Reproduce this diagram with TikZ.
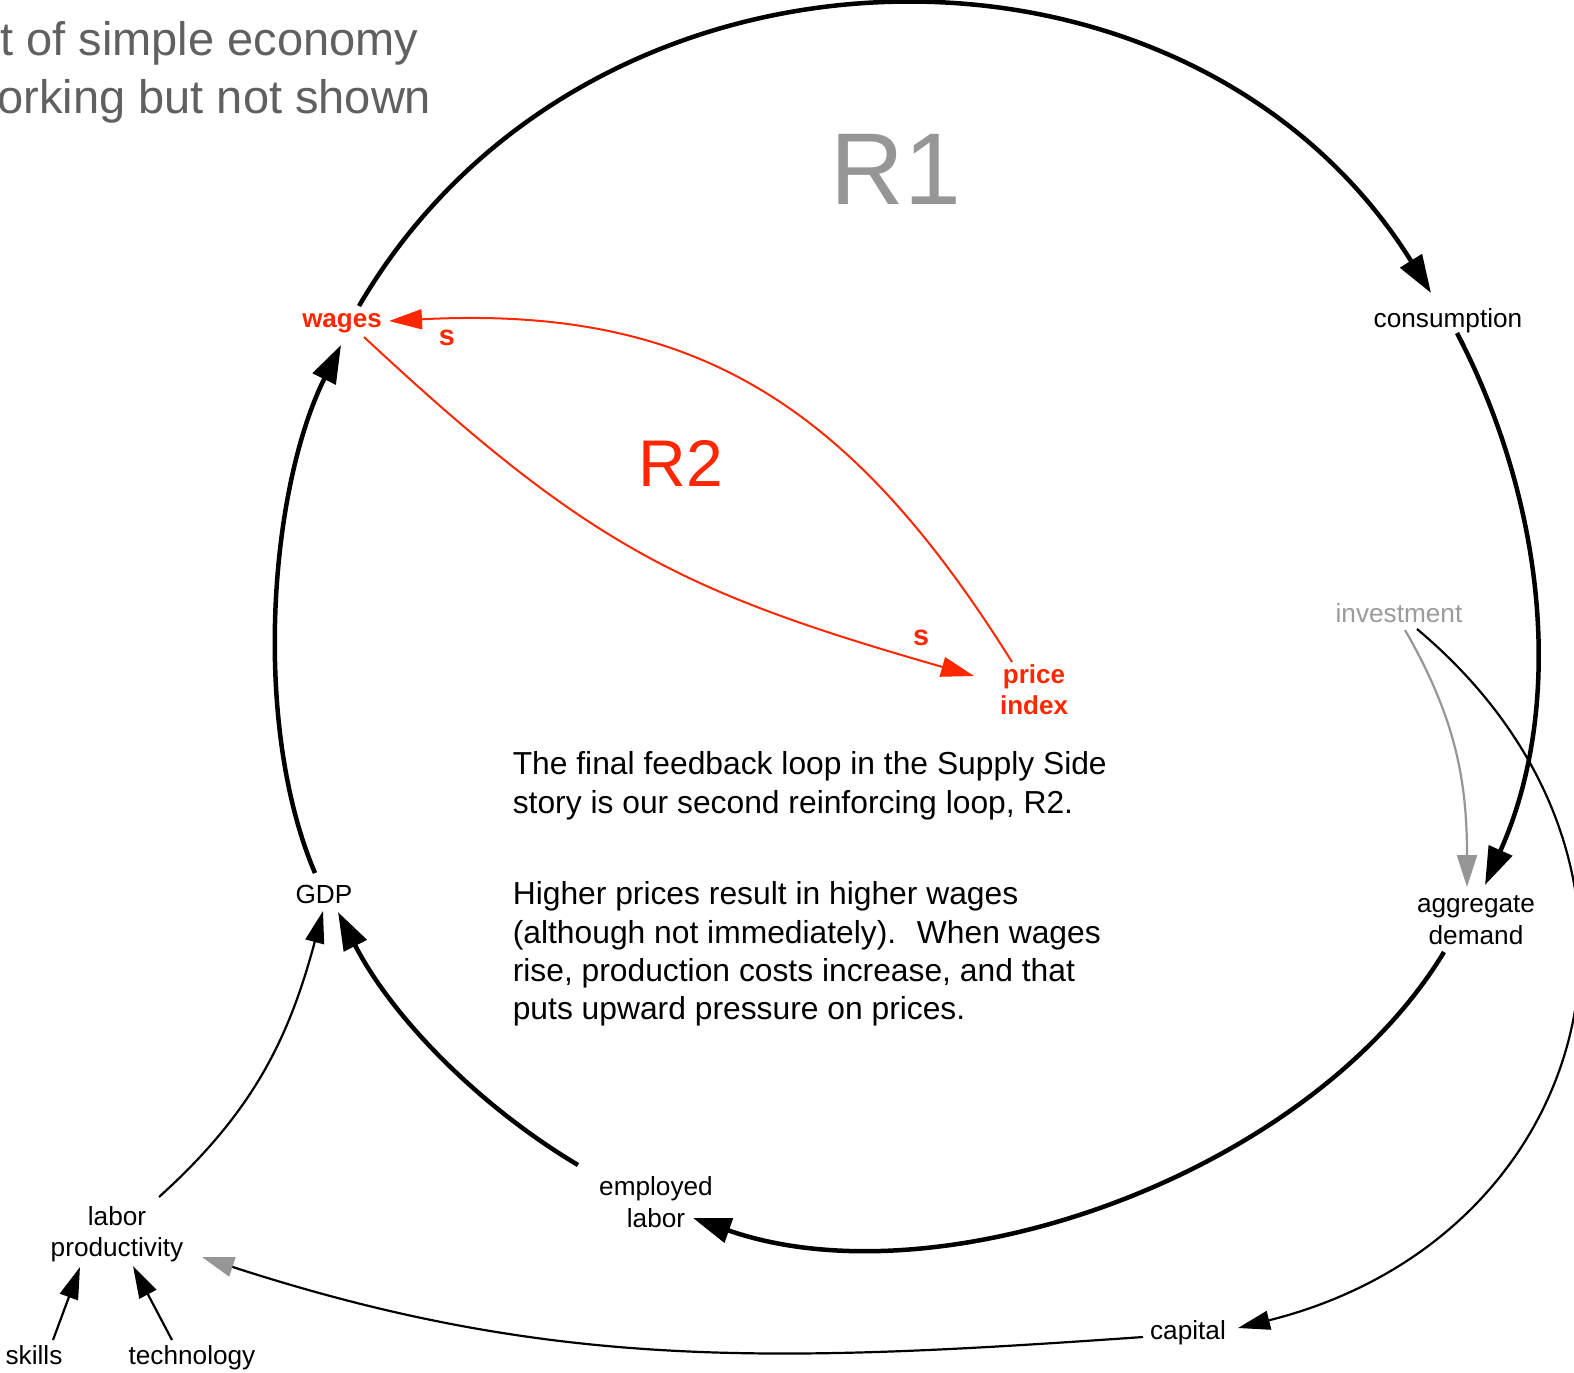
\documentclass[tikz,border=0pt]{standalone}
\usepackage{fontspec}
\setmainfont{Liberation Sans}
\usetikzlibrary{arrows.meta}
\definecolor{myred}{RGB}{255,38,0}
\definecolor{rgray}{RGB}{150,150,150}
\definecolor{titlegray}{RGB}{96,96,96}
\definecolor{invgray}{RGB}{155,155,155}
\begin{document}
\begin{tikzpicture}[x=0.25pt,y=0.25pt,
  lbl/.style={font=\fontsize{6.55}{7.875}\selectfont, align=center, inner sep=1pt},
  redlbl/.style={lbl, text=myred, font=\fontsize{6.5}{7.875}\selectfont\bfseries},
  pol/.style={anchor=base, inner sep=0pt, text=myred, font=\fontsize{7.2}{8}\selectfont\bfseries},
  para/.style={anchor=north west, inner sep=0pt, align=left, font=\fontsize{7.95}{9.575}\selectfont},
  titletxt/.style={anchor=base east, inner sep=0pt, text=titlegray, font=\fontsize{11.75}{14.25}\selectfont},
  loopline/.style={line width=1.125pt, -{Triangle[length=9.5pt,width=6.25pt]}},
  thinline/.style={line width=0.55pt, -{Triangle[length=8pt,width=4.75pt]}},
  redline/.style={line width=0.5pt, draw=myred, -{Triangle[length=8.25pt,width=5pt]}},
  grayline/.style={line width=0.55pt, draw=rgray, -{Triangle[length=8pt,width=5pt]}},
  graytip/.style={line width=0.55pt, -{Triangle[length=8pt,width=5pt,color=rgray]}}
]
\fill[white] (0,0) rectangle (1574,-1372);
\useasboundingbox (0,0) rectangle (1574,-1372);

% title fragment
\node[titletxt] (t1) at (419,-55) {t of simple economy};
\node[titletxt] (t2) at (432,-113) {orking but not shown};

% loop labels
\node[anchor=base, inner sep=0pt, text=rgray, font=\fontsize{25.5}{25.5}\selectfont] (r1) at (896,-204) {R1};
\node[anchor=base, inner sep=0pt, text=myred, font=\fontsize{16.5}{16.5}\selectfont] (r2) at (681,-486) {R2};

% variables
\node[redlbl, anchor=base] (wages) at (342,-327) {wages};
\node[lbl, anchor=base] (cons) at (1448,-327) {consumption};
\node[lbl, anchor=base, text=invgray] (inv) at (1399,-622) {investment};
\node[lbl, anchor=base] (gdp) at (324,-903) {GDP};
\node[lbl, anchor=base] (skills) at (34,-1364) {skills};
\node[lbl, anchor=base] (tech) at (192,-1364) {technology};
\node[lbl, anchor=base] (capital) at (1188,-1339) {capital};
\node[lbl] (ad) at (1476,-920) {aggregate\\demand};
\node[lbl] (emp) at (656,-1202) {employed\\labor};
\node[lbl] (lp) at (117,-1234) {labor\\productivity};
\node[redlbl] (price) at (1034,-689.5) {price\\index};

% polarity labels
\node[pol] (s1) at (447,-345) {s};
\node[pol] (s2) at (921,-645) {s};

% text
\node[para] (p1) at (512,-751) {The final feedback loop in the Supply Side\\story is our second reinforcing loop, R2.};
\node[para] (p2) at (512,-881) {Higher prices result in higher wages\\(although not immediately).~ When wages\\rise, production costs increase, and that\\puts upward pressure on prices.};

% R1 loop
\draw[loopline] ([xshift=4.25pt,yshift=5.25pt]wages.base) to[out=59.7,in=121.9,looseness=1.09] ([xshift=-4.25pt,yshift=8.5pt]cons.base);
\draw[loopline] ([xshift=2.25pt,yshift=-1.5pt]cons.base) to[out=-62.5,in=65.8,looseness=0.9] ([xshift=2.25pt,yshift=8.75pt]ad.center);
\draw[loopline] ([xshift=-8pt,yshift=-8pt]ad.center) to[out=-121.2,in=-19.3,looseness=0.84] ([xshift=9.25pt,yshift=-4pt]emp.center);
\draw[loopline] ([xshift=-19.5pt,yshift=9.25pt]emp.center) to[out=149.2,in=-62.8,looseness=0.86] ([xshift=3.5pt,yshift=-2.25pt]gdp.base);
\draw[loopline] ([xshift=-2.25pt,yshift=7.5pt]gdp.base) to[out=113.1,in=-116.4,looseness=0.78] ([xshift=-0.25pt,yshift=-4.5pt]wages.base);

% R2 loop
\draw[redline] ([xshift=5.5pt,yshift=-2.5pt]wages.base) to[out=-43,in=164,looseness=1.12] ([xshift=-15pt,yshift=3.375pt]price.center);
\draw[redline] ([xshift=-5.5pt,yshift=6.875pt]price.center) to[out=122,in=3,looseness=1.1] ([xshift=11.75pt,yshift=1.5pt]wages.base);

% others
\draw[grayline] ([xshift=1.5pt,yshift=-2pt]inv.base) to[out=-60,in=90] ([xshift=-2.25pt,yshift=8.25pt]ad.center);
\draw[thinline] ([xshift=4.5pt,yshift=-1.75pt]inv.base) to[out=-40,in=14,looseness=1.3] ([xshift=12.5pt,yshift=2.75pt]capital.base);
\draw[graytip] ([xshift=-11.25pt,yshift=0.5pt]capital.base) to[out=184,in=-18] ([xshift=21.25pt,yshift=-5.75pt]lp.center);
\draw[thinline] ([xshift=10.5pt,yshift=9.25pt]lp.center) to[out=42,in=-105] ([xshift=-0.25pt,yshift=-2pt]gdp.base);
\draw[thinline] ([xshift=4.75pt,yshift=6pt]skills.base) -- ([xshift=-9.25pt,yshift=-8.25pt]lp.center);
\draw[thinline] ([xshift=-5pt,yshift=6pt]tech.base) -- ([xshift=4pt,yshift=-8pt]lp.center);
\end{tikzpicture}
\end{document}
